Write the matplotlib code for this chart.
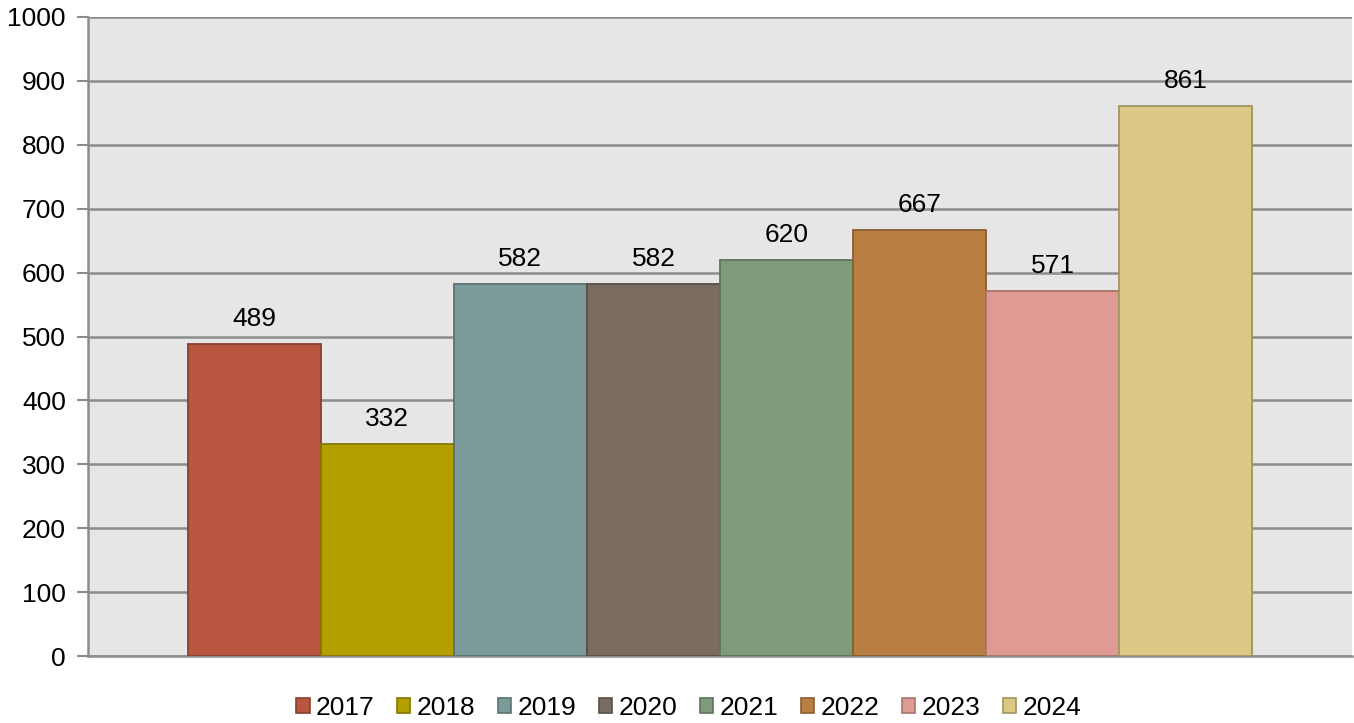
import matplotlib.pyplot as plt
from matplotlib.patches import Patch

plt.rcParams['font.family'] = ['Liberation Sans', 'DejaVu Sans']

years = ['2017', '2018', '2019', '2020', '2021', '2022', '2023', '2024']
values = [489, 332, 582, 582, 620, 667, 571, 861]
fills = ['#B85640', '#B3A000', '#7B9A9A', '#7A6C60', '#7E9C7C', '#B87E42', '#DF9B93', '#DBC985']
edges = ['#8A3F2F', '#857700', '#5C7373', '#5A4F46', '#5E745C', '#8A5E31', '#A7746E', '#A3955F']

fig = plt.figure(figsize=(13.54, 7.23), dpi=100)
ax = fig.add_axes([88 / 1354, 67 / 723, 1264 / 1354, 639 / 723])
ax.set_facecolor('#E6E6E6')

# one category, 8 series, gap width 150%
w = 1 / (len(years) + 1.5)
x0 = 0.75 * w
for i, (y, v) in enumerate(zip(years, values)):
    ax.bar(x0 + i * w, v, width=w, align='edge', color=fills[i],
           edgecolor=edges[i], linewidth=1.3, zorder=3)
    ax.text(x0 + (i + 0.5) * w, v + 20, str(v), ha='center', va='bottom',
            fontsize=19, zorder=4)

ax.set_xlim(0, 1)
ax.set_ylim(0, 1000)
ax.set_yticks(range(0, 1001, 100))
ax.set_xticks([])
ax.yaxis.grid(True, color='#8C8C8C', linewidth=1.8, zorder=1)
ax.tick_params(axis='y', length=8, width=1.5, color='#8C8C8C', labelsize=19, pad=8)
for side in ['top', 'right']:
    ax.spines[side].set_visible(False)
for side in ['left', 'bottom']:
    ax.spines[side].set_color('#8C8C8C')
    ax.spines[side].set_linewidth(1.8)

handles = [Patch(facecolor=f, edgecolor=e, linewidth=1.2) for f, e in zip(fills, edges)]
fig.legend(handles, years, loc='center', bbox_to_anchor=(689 / 1354, 15 / 723), ncol=8,
           frameon=False, fontsize=19, handlelength=0.5, handleheight=0.5,
           handletextpad=0.25, columnspacing=0.85)

fig.savefig('out.png', dpi=100, facecolor='white')
